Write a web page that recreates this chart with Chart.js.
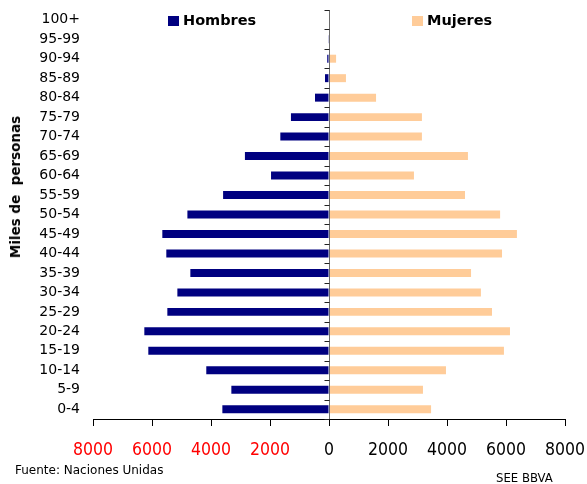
<!DOCTYPE html>
<html>
<head>
<meta charset="utf-8">
<script src="https://cdn.jsdelivr.net/npm/chart.js@4"></script>
<style>
  html, body { margin: 0; padding: 0; background: #fff; }
  #wrap { position: relative; width: 587px; height: 484px; overflow: hidden; }
  #c { position: absolute; left: 0; top: 0; }
  .leg { position: absolute; font-family: "DejaVu Sans", Verdana, sans-serif; font-weight: bold; font-size: 14.5px; color: #000; line-height: 1; white-space: nowrap; }
  .leg span { display: inline-block; width: 11px; height: 10px; margin-right: 4px; vertical-align: -1px; }
  #ytitle { position: absolute; font-family: "DejaVu Sans", Verdana, sans-serif; font-weight: bold; font-size: 13.5px; white-space: pre; transform: translate(-50%, -50%) rotate(-90deg); left: 15px; top: 187px; color: #000; }
  #src { position: absolute; left: 15px; top: 463px; font-family: "DejaVu Sans", Verdana, sans-serif; font-size: 12px; color: #000; white-space: nowrap; }
  #see { position: absolute; left: 496px; top: 470px; font-family: "DejaVu Sans Condensed", "Liberation Sans Narrow", sans-serif; font-stretch: condensed; font-size: 13px; color: #000; white-space: nowrap; }
</style>
</head>
<body>
<div id="wrap">
  <canvas id="c" width="587" height="484"></canvas>
  <div class="leg" id="legH" style="left:168px; top:13px;"><span style="background:#000080"></span>Hombres</div>
  <div class="leg" id="legM" style="left:412px; top:13px;"><span style="background:#FFCC99"></span>Mujeres</div>
  <div id="ytitle">Miles de  personas</div>
  <div id="src">Fuente: Naciones Unidas</div>
  <div id="see">SEE BBVA</div>
</div>
<script>
const categories = ['100+','95-99','90-94','85-89','80-84','75-79','70-74','65-69','60-64','55-59','50-54','45-49','40-44','35-39','30-34','25-29','20-24','15-19','10-14','5-9','0-4'];
const hombres = [0, 10, 60, 135, 475, 1290, 1650, 2850, 1965, 3590, 4800, 5650, 5515, 4700, 5140, 5480, 6260, 6125, 4160, 3310, 3615];
const mujeres = [0, 30, 240, 575, 1595, 3150, 3150, 4710, 2880, 4610, 5800, 6370, 5865, 4815, 5150, 5525, 6135, 5930, 3965, 3185, 3460];
const xTicks = [-8000, -6000, -4000, -2000, 0, 2000, 4000, 6000, 8000];

const centerAxis = {
  id: 'centerAxis',
  afterDatasetsDraw(chart) {
    const ctx = chart.ctx, x = chart.scales.x, y = chart.scales.y;
    const x0 = Math.round(x.getPixelForValue(0)) + 0.5;
    ctx.save();
    ctx.strokeStyle = '#6b6b6b';
    ctx.lineWidth = 1;
    ctx.beginPath();
    ctx.moveTo(x0, chart.chartArea.top);
    ctx.lineTo(x0, chart.chartArea.bottom);
    ctx.stroke();
    const n = categories.length;
    const band = (y.getPixelForValue(n - 1) - y.getPixelForValue(0)) / (n - 1);
    ctx.strokeStyle = '#222';
    for (let i = 0; i <= n; i++) {
      const yy = Math.round(y.getPixelForValue(i) - band / 2) + 0.5;
      ctx.beginPath();
      ctx.moveTo(x0 - 5, yy);
      ctx.lineTo(x0, yy);
      ctx.stroke();
    }
    ctx.restore();
  }
};

new Chart(document.getElementById('c'), {
  type: 'bar',
  data: {
    labels: categories,
    datasets: [
      { label: 'Hombres', data: hombres.map(v => -v), backgroundColor: '#000080', barPercentage: 0.41, categoryPercentage: 1 },
      { label: 'Mujeres', data: mujeres, backgroundColor: '#FFCC99', barPercentage: 0.41, categoryPercentage: 1 }
    ]
  },
  options: {
    indexAxis: 'y',
    responsive: false,
    animation: false,
    devicePixelRatio: 1,
    layout: { padding: { top: 10, right: 22, left: 0, bottom: 0 } },
    plugins: { legend: { display: false }, tooltip: { enabled: false } },
    scales: {
      x: {
        stacked: true,
        min: -8000, max: 8000,
        afterBuildTicks(s) { s.ticks = xTicks.map(v => ({ value: v })); },
        afterFit(s) { s.height = 65; s.paddingLeft = 0; s.paddingRight = 0; },
        border: { display: true, color: '#000', width: 1 },
        grid: { color: 'transparent', tickColor: '#000', tickLength: 7, drawOnChartArea: false },
        ticks: {
          padding: 14,
          maxRotation: 0,
          autoSkip: false,
          callback: v => String(Math.abs(v)),
          color: c => c.tick.value < 0 ? '#FF0000' : '#000000',
          font: { family: '"DejaVu Sans Condensed", "Liberation Sans Narrow", sans-serif', size: 17.5 }
        }
      },
      y: {
        stacked: true,
        afterFit(s) { s.width = 93; s.paddingTop = 0; s.paddingBottom = 0; },
        border: { display: false },
        grid: { display: false, drawTicks: false },
        ticks: {
          padding: 13,
          autoSkip: false,
          color: '#000',
          font: { family: '"DejaVu Sans", Verdana, sans-serif', size: 14 }
        }
      }
    }
  },
  plugins: [centerAxis]
});
</script>
</body>
</html>
